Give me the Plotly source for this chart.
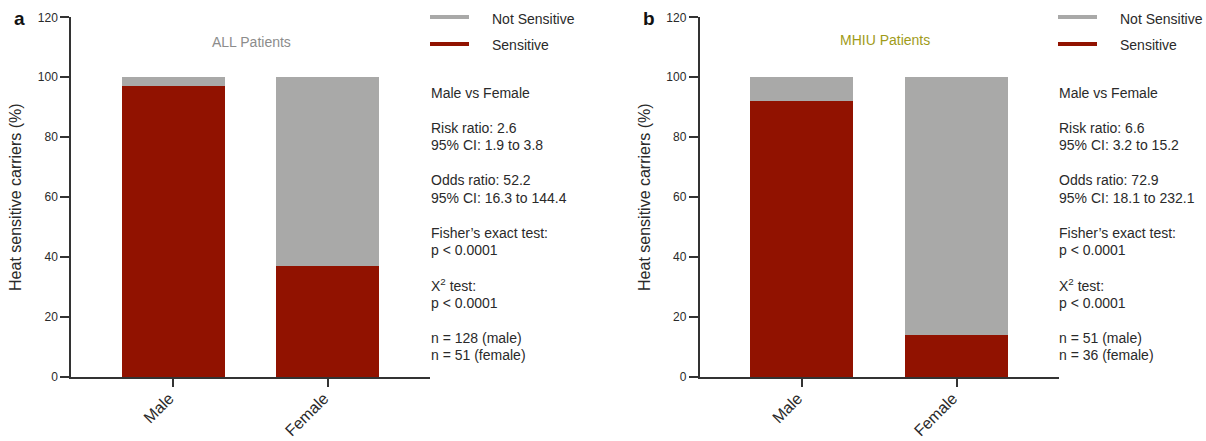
import plotly.graph_objects as go

# ---- data ----
groups = ["Male", "Female"]
all_sensitive = [97, 37]        # % heat sensitive carriers, all patients
all_not_sensitive = [3, 63]
mhiu_sensitive = [92, 14]       # % heat sensitive carriers, MHIU patients
mhiu_not_sensitive = [8, 86]

all_stats = [
    "Male vs Female", "",
    "Risk ratio: 2.6", "95% CI: 1.9 to 3.8", "",
    "Odds ratio: 52.2", "95% CI: 16.3 to 144.4", "",
    "Fisher’s exact test:", "p < 0.0001", "",
    "X<sup>2</sup> test:", "p < 0.0001", "",
    "n = 128 (male)", "n = 51 (female)",
]
mhiu_stats = [
    "Male vs Female", "",
    "Risk ratio: 6.6", "95% CI: 3.2 to 15.2", "",
    "Odds ratio: 72.9", "95% CI: 18.1 to 232.1", "",
    "Fisher’s exact test:", "p < 0.0001", "",
    "X<sup>2</sup> test:", "p < 0.0001", "",
    "n = 51 (male)", "n = 36 (female)",
]

RED = "rgb(145,18,0)"
GRAY = "rgb(169,169,168)"
AXIS = "#333333"
TEXT = "#2a2a2a"
FONT = "Liberation Sans, Arial, Helvetica, sans-serif"

W, H = 1206, 441


def px(x):
    return x / W


def py(y):
    return 1 - y / H


fig = go.Figure()

for xa, ya, sens, notsens in [("x", "y", all_sensitive, all_not_sensitive),
                              ("x2", "y2", mhiu_sensitive, mhiu_not_sensitive)]:
    fig.add_trace(go.Bar(x=groups, y=sens, name="Sensitive", marker_color=RED,
                         marker_line_width=0, xaxis=xa, yaxis=ya, showlegend=False))
    fig.add_trace(go.Bar(x=groups, y=notsens, name="Not Sensitive", marker_color=GRAY,
                         marker_line_width=0, xaxis=xa, yaxis=ya, showlegend=False))

xcommon = dict(range=[-0.66, 1.66], showline=True, linecolor=AXIS, linewidth=1.5,
               ticks="outside", ticklen=8, tickwidth=1.5, tickcolor=AXIS,
               tickangle=-45, tickfont=dict(size=16, color=TEXT, family=FONT),
               ticklabelstandoff=-4, ticklabelshift=-4,
               showgrid=False, zeroline=False, automargin=False)
ycommon = dict(range=[0, 120], dtick=20, showline=True, linecolor=AXIS, linewidth=1.5,
               ticks="outside", ticklen=9, tickwidth=1.5, tickcolor=AXIS,
               tickfont=dict(size=12, color=TEXT, family=FONT),
               showgrid=False, zeroline=False, automargin=False,
               title=dict(text="Heat sensitive carriers (%)", standoff=12,
                          font=dict(size=16, color=TEXT, family=FONT)))

ydom = [py(377), py(17.3)]
fig.update_layout(
    width=W, height=H,
    margin=dict(l=0, r=0, t=0, b=0, autoexpand=False),
    paper_bgcolor="white", plot_bgcolor="white",
    barmode="stack", bargap=0.335,
    font=dict(family=FONT, color=TEXT),
    xaxis=dict(domain=[px(71), px(430)], anchor="y", **xcommon),
    yaxis=dict(domain=ydom, anchor="x", **ycommon),
    xaxis2=dict(domain=[px(699.5), px(1059)], anchor="y2", **xcommon),
    yaxis2=dict(domain=ydom, anchor="x2", **ycommon),
    showlegend=False,
)

annotations = []
shapes = []


def note(text, x, y, size=14, color=TEXT, xanchor="center"):
    annotations.append(dict(text=text, x=px(x), y=py(y), xref="paper", yref="paper",
                            xanchor=xanchor, yanchor="middle", showarrow=False,
                            font=dict(size=size, color=color, family=FONT)))


# panel letters and titles
note("<b>a</b>", 19, 18, size=19, color="#111")
note("<b>b</b>", 649, 18, size=19, color="#111")
note("ALL Patients", 251, 42, color="rgb(140,140,140)")
note("MHIU Patients", 885, 40, color="rgb(160,155,25)")

# legend keys and stats text beside each panel
for lx, tx, sx, stats in [(430, 490, 429, all_stats), (1058, 1118, 1057, mhiu_stats)]:
    for yy, col, label in [(17, GRAY, "Not Sensitive"), (44, RED, "Sensitive")]:
        shapes.append(dict(type="line", xref="paper", yref="paper",
                           x0=px(lx), x1=px(lx + 39), y0=py(yy), y1=py(yy),
                           line=dict(color=col, width=4)))
        note(label, tx, yy + 1.5, xanchor="left")
    for i, line in enumerate(stats):
        if line:
            note(line, sx, 93 + i * 17.47, xanchor="left")

fig.update_layout(annotations=annotations, shapes=shapes)
fig.write_html("out.html")
